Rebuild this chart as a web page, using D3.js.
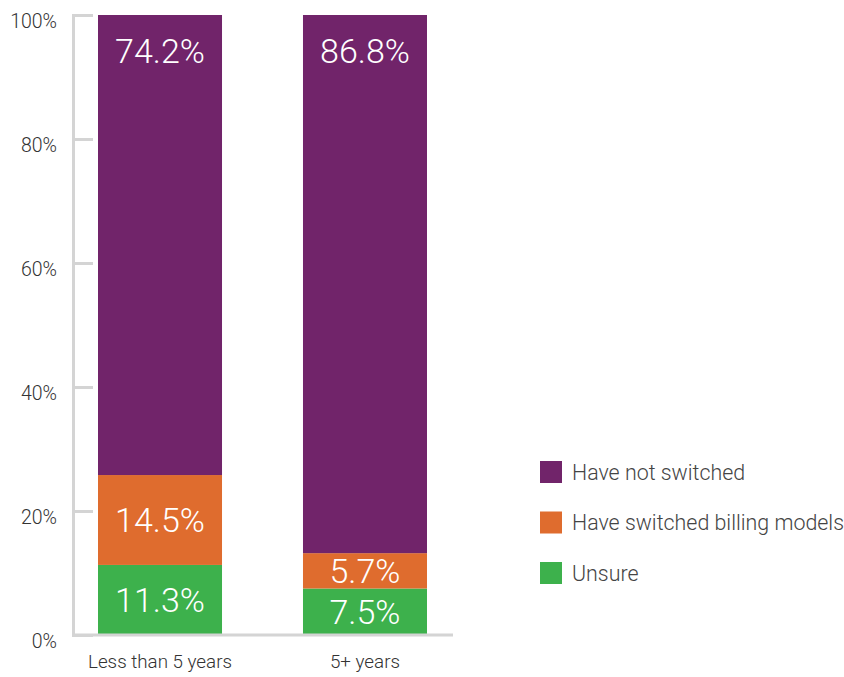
<!DOCTYPE html>
<html>
<head>
<meta charset="utf-8">
<script src="https://cdn.jsdelivr.net/npm/d3@7"></script>
<style>
  html, body { margin: 0; padding: 0; background: #fff; }
  svg { display: block; font-family: Roboto, "Noto Sans", sans-serif; }
</style>
</head>
<body>
<svg id="chart" width="844" height="677"></svg>
<script>
// Tenure groups along the x axis
const categories = ["Less than 5 years", "5+ years"];

// Share of respondents per group (percent), stacked bottom-up: unsure, switched, not switched
const seriesNames = ["Unsure", "Have switched billing models", "Have not switched"];
const unsure      = [11.3, 7.5];
const switched    = [14.5, 5.7];
const notSwitched = [74.2, 86.8];

const yTicks = [0, 20, 40, 60, 80, 100];
const yTickLabels = ["0%", "20%", "40%", "60%", "80%", "100%"];

// Legend reads top-down
const legendOrder = ["Have not switched", "Have switched billing models", "Unsure"];

const colors = {
  "Have not switched": "#71246a",
  "Have switched billing models": "#df6c2e",
  "Unsure": "#3db14c"
};

const svg = d3.select("#chart");

const rows = categories.map((c, i) => ({
  category: c,
  "Unsure": unsure[i],
  "Have switched billing models": switched[i],
  "Have not switched": notSwitched[i]
}));

const x = d3.scaleBand()
  .domain(categories)
  .range([57.5, 467.5])
  .paddingInner(0.395)
  .paddingOuter(0.1976);

const y = d3.scaleLinear().domain([0, 100]).range([635, 15]);

const stack = d3.stack().keys(seriesNames);
const layers = stack(rows);

// Y axis with inward ticks
const yAxis = d3.axisLeft(y)
  .tickValues(yTicks)
  .tickFormat((d, i) => yTickLabels[i])
  .tickSizeInner(-20)
  .tickSizeOuter(-20)
  .tickPadding(16);

const yg = svg.append("g")
  .attr("transform", "translate(73,0)")
  .call(yAxis)
  .attr("font-family", null)
  .attr("font-size", null);
yg.selectAll("path, line").attr("stroke", "#d4d4d4").attr("stroke-width", 3);
yg.selectAll("text")
  .attr("fill", "#333")
  .attr("font-size", 19.5)
  .attr("font-weight", 300)
  .attr("dy", "0.64em");

// Stacked bars
const layerG = svg.append("g").selectAll("g")
  .data(layers)
  .join("g")
  .attr("fill", d => colors[d.key]);

layerG.selectAll("rect")
  .data(d => d.map(s => ({ key: d.key, s })))
  .join("rect")
  .attr("x", d => x(d.s.data.category))
  .attr("width", x.bandwidth())
  .attr("y", d => y(d.s[1]))
  .attr("height", d => y(d.s[0]) - y(d.s[1]));

// Baseline
svg.append("line")
  .attr("x1", 73).attr("x2", 453)
  .attr("y1", y(0)).attr("y2", y(0))
  .attr("stroke", "#d4d4d4").attr("stroke-width", 3);

// Value labels: top segment labelled near its top, others centred
const labelG = svg.append("g")
  .attr("font-size", 34)
  .attr("font-weight", 300)
  .attr("fill", "#fff")
  .attr("text-anchor", "middle");

layers.forEach(layer => {
  layer.forEach(s => {
    const v = s.data[layer.key];
    const cx = x(s.data.category) + x.bandwidth() / 2;
    let ty;
    if (layer.key === "Have not switched") {
      ty = y(s[1]) + 48;
    } else {
      ty = (y(s[0]) + y(s[1])) / 2 + 12;
    }
    labelG.append("text")
      .attr("x", cx)
      .attr("y", ty)
      .text(v.toFixed(1) + "%");
  });
});

// Category labels
svg.append("g").selectAll("text")
  .data(categories)
  .join("text")
  .attr("x", d => x(d) + x.bandwidth() / 2)
  .attr("y", 668)
  .attr("text-anchor", "middle")
  .attr("font-size", 18.8)
  .attr("font-weight", 300)
  .attr("fill", "#333")
  .text(d => d);

// Legend
const legend = svg.append("g").attr("transform", "translate(540,461)");
const item = legend.selectAll("g")
  .data(legendOrder)
  .join("g")
  .attr("transform", (d, i) => `translate(0,${i * 50.5})`);
item.append("rect")
  .attr("width", 22).attr("height", 22)
  .attr("fill", d => colors[d]);
item.append("text")
  .attr("x", 32)
  .attr("y", 18.5)
  .attr("font-size", 21.4)
  .attr("font-weight", 300)
  .attr("fill", "#444")
  .text(d => d);
</script>
</body>
</html>
